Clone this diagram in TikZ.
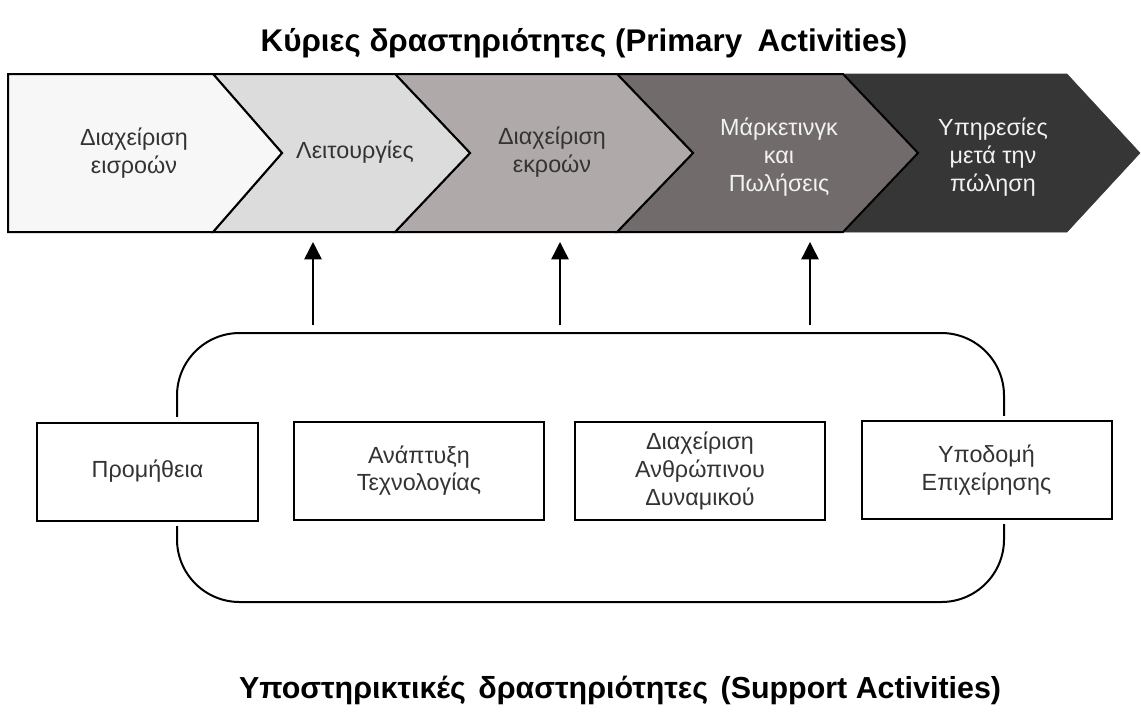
\documentclass[tikz,border=0pt]{standalone}
\usepackage{fontspec}
\setmainfont{Liberation Sans}
\usetikzlibrary{arrows.meta}
\definecolor{chevA}{HTML}{F7F7F7}
\definecolor{chevB}{HTML}{DCDCDC}
\definecolor{chevC}{HTML}{AFAAA9}
\definecolor{chevD}{HTML}{716C6B}
\definecolor{chevE}{HTML}{363636}
\definecolor{txtdark}{HTML}{333333}
\definecolor{txtlight}{HTML}{F2F2F2}
\tikzset{
  chev/.style={draw=black,line width=1.5pt,line join=miter},
  lbl/.style={align=center,inner sep=0pt,text=txtdark,font=\fontsize{17.5}{20.8}\selectfont},
  sbox/.style={draw=black,line width=1.5pt,fill=white,preaction={draw=white,line width=8pt},
    minimum width=187.5pt,minimum height=73.5pt,align=center,text=txtdark,font=\fontsize{17.5}{20.8}\selectfont},
  upar/.style={-{Triangle[length=13pt,width=13pt]},line width=1.1pt},
  ttl/.style={inner sep=0pt,font=\fontsize{23.5}{28}\selectfont\bfseries}
}
\begin{document}
\begin{tikzpicture}[x=0.75pt,y=-0.75pt]
\useasboundingbox (0,0) rectangle (1141,711);
\node[ttl] (primt) at (584,43) {Κύριες δραστηριότητες (Primary\hspace{5pt} Activities)};
\node[ttl,font=\fontsize{22.8}{27}\selectfont\bfseries] (supt) at (620,690) {Υποστηρικτικές\hspace{3pt} δραστηριότητες\hspace{3pt} (Support Activities)};
\filldraw[draw=chevE,fill=chevE] (843,74)--(1067,74)--(1140,153)--(1067,232)--(843,232)--(918,153)--cycle;
\filldraw[chev,fill=chevD] (617,74)--(843,74)--(918,153)--(843,232)--(617,232)--(693,153)--cycle;
\filldraw[chev,fill=chevC] (395,74)--(617,74)--(693,153)--(617,232)--(395,232)--(470,153)--cycle;
\filldraw[chev,fill=chevB] (213,74)--(395,74)--(470,153)--(395,232)--(213,232)--(282,153)--cycle;
\filldraw[chev,fill=chevA] (8,74)--(213,74)--(282,153)--(213,232)--(8,232)--cycle;
\node[lbl] (inb) at (134,153) {Διαχείριση\\εισροών};
\node[lbl] (ops) at (355,152) {Λειτουργίες};
\node[lbl] (outb) at (552,152) {Διαχείριση\\εκροών};
\node[lbl,text=txtlight] (mks) at (779,157) {Μάρκετινγκ\\και\\Πωλήσεις};
\node[lbl,text=txtlight] (aft) at (993,157) {Υπηρεσίες\\μετά την\\πώληση};
\draw[line width=1.5pt,rounded corners=47pt] (177,333) rectangle (1004,602);
\node[sbox,minimum width=165.75pt] (proc) at (147.5,471.5) {Προμήθεια};
\node[sbox] (tech) at (419,470.5) {Ανάπτυξη\\Τεχνολογίας};
\node[sbox] (hrm) at (700,471) {Διαχείριση\\Ανθρώπινου\\Δυναμικού};
\node[sbox] (infra) at (986.5,470) {Υποδομή\\Επιχείρησης};
\coordinate (s1) at (313,325); \coordinate (e1) at (313,242);
\coordinate (s2) at (560,325); \coordinate (e2) at (560,242);
\coordinate (s3) at (810,325); \coordinate (e3) at (810,242);
\draw[upar] (s1)--(e1);
\draw[upar] (s2)--(e2);
\draw[upar] (s3)--(e3);
\end{tikzpicture}
\end{document}
